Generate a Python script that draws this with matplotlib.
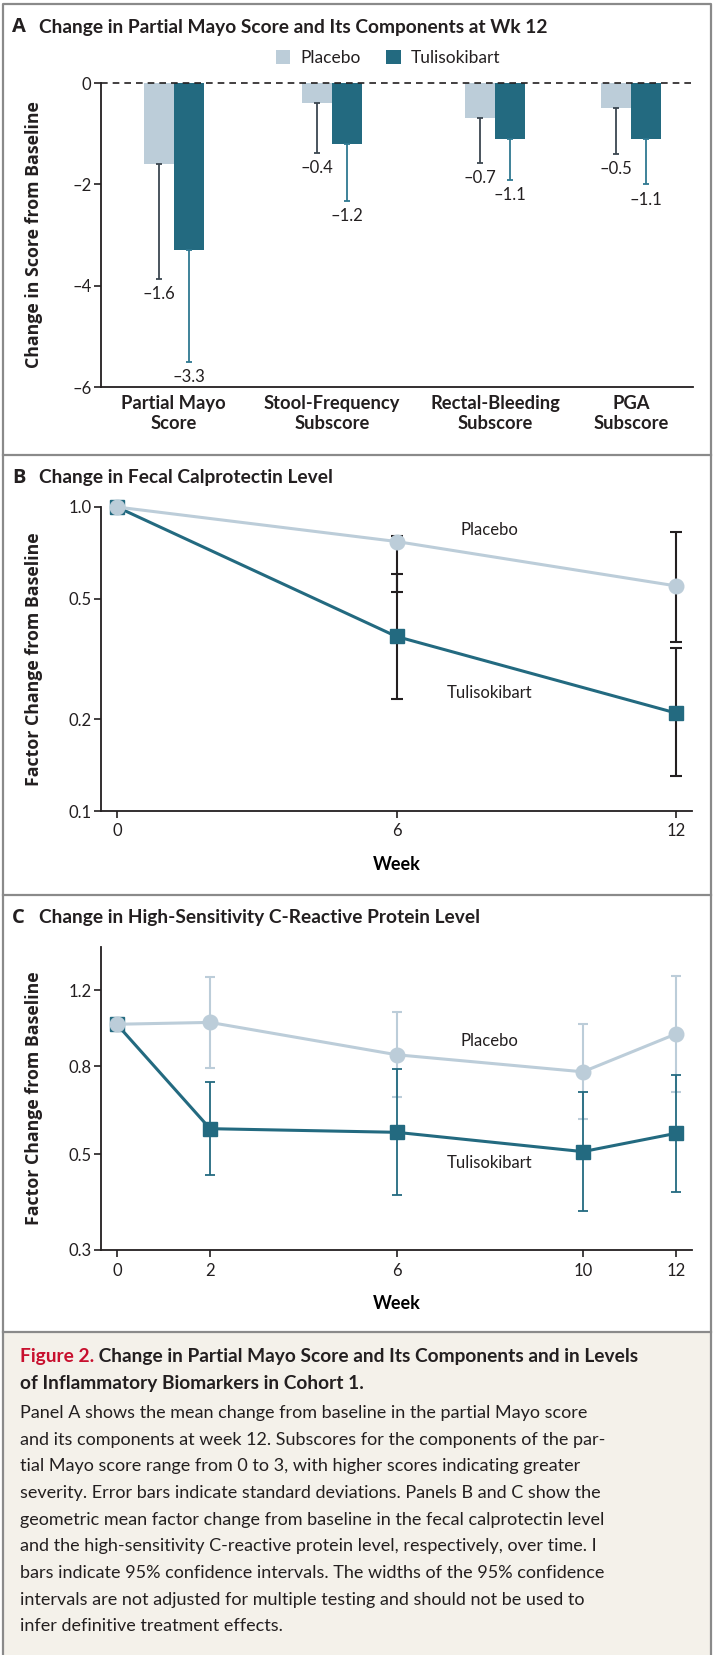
import matplotlib
matplotlib.use('Agg')
import matplotlib.pyplot as plt
from matplotlib import font_manager as fm
from matplotlib.patches import Rectangle
from matplotlib.ticker import NullLocator
import numpy as np

# ---- panel A: change in partial Mayo score at wk 12 (mean, SD)
categories = ['Partial Mayo\nScore', 'Stool-Frequency\nSubscore',
              'Rectal-Bleeding\nSubscore', 'PGA\nSubscore']
placebo_mean = [-1.6, -0.4, -0.7, -0.5]
placebo_sd = [2.27, 0.98, 0.88, 0.90]
tuli_mean = [-3.3, -1.2, -1.1, -1.1]
tuli_sd = [2.21, 1.13, 0.81, 0.90]

# ---- panel B: fecal calprotectin (geometric mean factor change, 95% CI)
weeks_b = [0, 6, 12]
calpro_placebo = [1.0, 0.77, 0.55]
calpro_placebo_lo = [1.0, 0.525, 0.36]
calpro_placebo_hi = [1.0, 0.80, 0.83]
calpro_tuli = [1.0, 0.375, 0.21]
calpro_tuli_lo = [1.0, 0.233, 0.13]
calpro_tuli_hi = [1.0, 0.60, 0.343]

# ---- panel C: hs-CRP
weeks_c = [0, 2, 6, 10, 12]
crp_placebo = [1.0, 1.01, 0.85, 0.776, 0.95]
crp_placebo_lo = [1.0, 0.79, 0.678, 0.604, 0.696]
crp_placebo_hi = [1.0, 1.29, 1.067, 1.0, 1.295]
crp_tuli = [1.0, 0.573, 0.562, 0.507, 0.559]
crp_tuli_lo = [1.0, 0.448, 0.402, 0.37, 0.409]
crp_tuli_hi = [1.0, 0.736, 0.787, 0.695, 0.763]

PLAC = '#bccdd9'
TULI = '#236a80'
INK = '#231f20'

names = {f.name for f in fm.fontManager.ttflist}
FONT = 'Lato' if 'Lato' in names else 'DejaVu Sans'
WIDE = 'Open Sans' if 'Open Sans' in names else FONT
plt.rcParams['font.family'] = [FONT, 'DejaVu Sans']
plt.rcParams['text.color'] = INK
plt.rcParams['axes.edgecolor'] = INK
plt.rcParams['xtick.color'] = INK
plt.rcParams['ytick.color'] = INK

W, H = 713, 1655
fig = plt.figure(figsize=(W / 100, H / 100), dpi=100)

# overlay in pixel coords (y down) for frame, titles, caption
bg = fig.add_axes([0, 0, 1, 1])
bg.set_xlim(0, W)
bg.set_ylim(H, 0)
bg.axis('off')
bg.add_patch(Rectangle((3, 1332), 708, H - 1332, facecolor='#f4f1ea', edgecolor='none'))
bg.plot([3, 3, 711, 711], [H, 4, 4, H], color='#8a8a8a', lw=1.6)
for yy in [455, 895, 1332]:
    bg.plot([3, 711], [yy, yy], color='#8a8a8a', lw=1.6)

titles = [('A', 'Change in Partial Mayo Score and Its Components at Wk 12', 27),
          ('B', 'Change in Fecal Calprotectin Level', 478),
          ('C', 'Change in High-Sensitivity C-Reactive Protein Level', 918)]
for letter, txt, yy in titles:
    bg.text(12, yy, letter, fontsize=14.5, fontweight='bold', va='center', ha='left',
            family=[WIDE, 'DejaVu Sans'])
    bg.text(39, yy, txt, fontsize=13.8, fontweight='bold', va='center', ha='left')


def px_axes(l, t, r, b):
    return fig.add_axes([l / W, 1 - b / H, (r - l) / W, (b - t) / H])


def style(ax):
    for s in ['top', 'right']:
        ax.spines[s].set_visible(False)
    for s in ['left', 'bottom']:
        ax.spines[s].set_linewidth(1.3)
    ax.tick_params(labelsize=12, length=5, width=1.2, pad=2)


def dash(v):
    return ('%g' % v).replace('-', '\u2013')


def ylab(y, txt):
    bg.text(34, y, txt, rotation=90, fontsize=12.8, fontweight='bold',
            ha='center', va='center', family=[WIDE, 'DejaVu Sans'])

# ---------------- Panel A
axA = px_axes(101, 83, 693, 387)
style(axA)
xpos = np.array([0, 1, 2.03, 2.89])
bw = 0.19
axA.bar(xpos - bw / 2, placebo_mean, bw, color=PLAC, label='Placebo')
axA.bar(xpos + bw / 2, tuli_mean, bw, color=TULI, label='Tulisokibart')
axA.errorbar(xpos - bw / 2, placebo_mean, yerr=[placebo_sd, [0] * 4], fmt='none',
             ecolor='#3b4650', elinewidth=1.3, capsize=2.2, capthick=1.3)
axA.errorbar(xpos + bw / 2, tuli_mean, yerr=[tuli_sd, [0] * 4], fmt='none',
             ecolor='#2f7891', elinewidth=1.3, capsize=2.2, capthick=1.3)
for x, m, s in zip(xpos - bw / 2, placebo_mean, placebo_sd):
    axA.annotate(dash(m), (x, m - s), xytext=(0, -11), textcoords='offset points',
                 ha='center', va='center', fontsize=12)
for x, m, s in zip(xpos + bw / 2, tuli_mean, tuli_sd):
    axA.annotate(dash(m), (x, m - s), xytext=(0, -11), textcoords='offset points',
                 ha='center', va='center', fontsize=12)
axA.axhline(0, color=INK, lw=1.2, ls=(0, (4, 3)), clip_on=False)
axA.set_ylim(-6, 0)
axA.set_xlim(-0.46, 3.28)
axA.set_yticks([0, -2, -4, -6])
axA.set_yticklabels(['0', '\u20132', '\u20134', '\u20136'])
axA.set_xticks(xpos)
axA.set_xticklabels(categories, fontweight='bold', fontsize=13.2, linespacing=1.2)
axA.tick_params(axis='x', length=0, pad=6)
axA.legend(loc='center', bbox_to_anchor=(388 / W, 1 - 58 / H), bbox_transform=fig.transFigure,
           ncol=2, frameon=False, fontsize=12.5, handlelength=0.85, handleheight=0.85,
           handletextpad=0.55, columnspacing=1.5)
ylab(235, 'Change in Score from Baseline')


def log_axes(ax, ticks, labels, ylim):
    style(ax)
    ax.set_yscale('log')
    ax.set_ylim(*ylim)
    ax.set_yticks(ticks)
    ax.set_yticklabels(labels)
    ax.yaxis.set_minor_locator(NullLocator())
    ax.set_xlim(-0.34, 12.34)
    ax.tick_params(axis='x', pad=4)
    ax.set_xlabel('Week', fontsize=13, fontweight='bold', labelpad=12)

# ---------------- Panel B
axB = px_axes(101, 507, 692, 811)
log_axes(axB, [0.1, 0.2, 0.5, 1.0], ['0.1', '0.2', '0.5', '1.0'], (0.1, 1.0))
axB.set_xticks(weeks_b)
pb = np.array(calpro_placebo)
tb = np.array(calpro_tuli)
axB.errorbar(weeks_b[1:], pb[1:], yerr=[pb[1:] - calpro_placebo_lo[1:], np.array(calpro_placebo_hi[1:]) - pb[1:]],
             fmt='none', ecolor=INK, elinewidth=1.5, capsize=4, capthick=1.5)
axB.errorbar(weeks_b[1:], tb[1:], yerr=[tb[1:] - calpro_tuli_lo[1:], np.array(calpro_tuli_hi[1:]) - tb[1:]],
             fmt='none', ecolor=INK, elinewidth=1.5, capsize=4, capthick=1.5)
axB.plot(weeks_b, calpro_tuli, color=TULI, lw=2.2, marker='s', ms=9.5, clip_on=False, zorder=4)
axB.plot(weeks_b, calpro_placebo, color=PLAC, lw=2.2, marker='o', ms=10.5, clip_on=False, zorder=5)
axB.text(8, 0.84, 'Placebo', fontsize=12, ha='center', va='center')
axB.text(8, 0.244, 'Tulisokibart', fontsize=12, ha='center', va='center')
ylab(659, 'Factor Change from Baseline')

# ---------------- Panel C
axC = px_axes(101, 947, 692, 1250)
log_axes(axC, [0.3, 0.5, 0.8, 1.2], ['0.3', '0.5', '0.8', '1.2'], (0.3, 1.51))
axC.set_xticks(weeks_c)
pc = np.array(crp_placebo)
tc = np.array(crp_tuli)
axC.errorbar(weeks_c[1:], pc[1:], yerr=[pc[1:] - crp_placebo_lo[1:], np.array(crp_placebo_hi[1:]) - pc[1:]],
             fmt='none', ecolor=PLAC, elinewidth=1.5, capsize=3.5, capthick=1.5)
axC.errorbar(weeks_c[1:], tc[1:], yerr=[tc[1:] - crp_tuli_lo[1:], np.array(crp_tuli_hi[1:]) - tc[1:]],
             fmt='none', ecolor=TULI, elinewidth=1.3, capsize=3.5, capthick=1.3)
axC.plot(weeks_c, crp_tuli, color=TULI, lw=2.2, marker='s', ms=9.5, clip_on=False, zorder=4)
axC.plot(weeks_c, crp_placebo, color=PLAC, lw=2.2, marker='o', ms=10.5, clip_on=False, zorder=5)
axC.text(8, 0.914, 'Placebo', fontsize=12, ha='center', va='center')
axC.text(8, 0.477, 'Tulisokibart', fontsize=12, ha='center', va='center')
ylab(1098, 'Factor Change from Baseline')

# ---------------- caption
t1 = bg.text(20, 1362, 'Figure 2.', color='#c8102e', fontsize=13.8, fontweight='bold', va='baseline')
bg.annotate(' Change in Partial Mayo Score and Its Components and in Levels', xy=(1, 0),
            xycoords=t1, va='bottom', fontsize=13.8, fontweight='bold')
bg.text(20, 1389, 'of Inflammatory Biomarkers in Cohort 1.', fontsize=13.8, fontweight='bold', va='baseline')
caption = ['Panel A shows the mean change from baseline in the partial Mayo score',
           'and its components at week 12. Subscores for the components of the par-',
           'tial Mayo score range from 0 to 3, with higher scores indicating greater',
           'severity. Error bars indicate standard deviations. Panels B and C show the',
           'geometric mean factor change from baseline in the fecal calprotectin level',
           'and the high-sensitivity C-reactive protein level, respectively, over time. I',
           'bars indicate 95% confidence intervals. The widths of the 95% confidence',
           'intervals are not adjusted for multiple testing and should not be used to',
           'infer definitive treatment effects.']
for i, line in enumerate(caption):
    bg.text(20, 1413 + i * 26.65, line, fontsize=13, va='center')

fig.savefig('out.png', dpi=100)
